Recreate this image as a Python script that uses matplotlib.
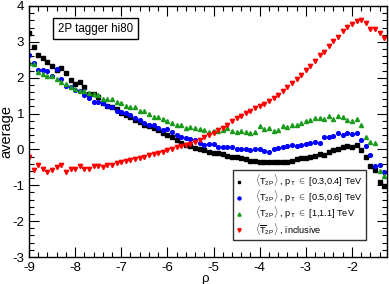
import numpy as np
import matplotlib
matplotlib.use("Agg")
import matplotlib.pyplot as plt
from matplotlib.ticker import MultipleLocator

plt.rcParams['font.family'] = ['Liberation Sans', 'DejaVu Sans']
plt.rcParams['mathtext.fontset'] = 'custom'
plt.rcParams['mathtext.rm'] = 'Liberation Sans'
plt.rcParams['mathtext.it'] = 'Liberation Sans'
plt.rcParams['axes.unicode_minus'] = False

# rho bins, -9.0 ... -1.3
rho = np.round(np.arange(-9.0, -1.25, 0.1), 2)

# <T_2P>, pT in [0.3,0.4] TeV
black = [3.24, 2.87, 2.63, 2.54, 2.45, 2.34, 2.22, 2.28, 2.12, 1.94,
         1.82, 1.88, 1.74, 1.55, 1.55,
         1.45, 1.30, 1.22, 1.18, 1.12, 1.02, 0.96, 0.90, 0.82, 0.76,
         0.69, 0.64, 0.59, 0.53, 0.47, 0.41, 0.34,
         0.27, 0.19, 0.13, 0.10, 0.04, 0.01, -0.01, -0.07,
         -0.09, -0.10, -0.14, -0.17, -0.20, -0.22, -0.24, -0.28, -0.31, -0.33,
         -0.34, -0.36, -0.36, -0.36, -0.35, -0.35, -0.34, -0.31, -0.28,
         -0.24, -0.24, -0.21, -0.18, -0.12, -0.15, -0.06, -0.01, 0.01, 0.08,
         0.10, 0.08, 0.13, -0.01, -0.20, -0.45, -0.57, -0.92, -1.03]

# <T_2P>, pT in [0.5,0.6] TeV
blue = [2.62, 2.40, 2.22, 2.21, 2.19, 2.05, 2.24, 1.96, 1.78, 1.74,
        1.66, 1.63, 1.52, 1.44, 1.33, 1.31, 1.30, 1.20, 1.17, 1.08, 1.05,
        1.01, 0.96, 0.87, 0.82, 0.73, 0.69, 0.67, 0.59, 0.55, 0.56,
        0.50, 0.41, 0.36, 0.31,
        0.29, 0.27, 0.19, 0.13, 0.14, 0.15, 0.06, 0.08, 0.08, 0.06, 0.02,
        0.02, 0.01, -0.01, 0.01, 0.01, -0.03, -0.08, 0.01, 0.04, 0.06,
        0.10, 0.13, 0.09,
        0.13, 0.14, 0.19, 0.22, 0.18, 0.36, 0.35, 0.38, 0.45, 0.41,
        0.45, 0.43, 0.45, 0.25, 0.10, -0.15, -0.45, -0.43, -0.64]

# <T_2P>, pT in [1,1.1] TeV
green = [2.40, 2.39, 2.17, 2.11, 2.05, 2.04, 1.97, 1.88, 1.82, 1.75,
         1.68, 1.63, 1.62, 1.56, 1.54, 1.52, 1.42, 1.40, 1.40, 1.33,
         1.29, 1.21, 1.17, 1.17, 1.08, 1.06, 0.99, 0.90, 0.90, 0.86,
         0.78, 0.75, 0.69, 0.67, 0.61,
         0.62, 0.59, 0.57, 0.55, 0.50, 0.51, 0.51, 0.55, 0.59, 0.51,
         0.48, 0.51, 0.50, 0.45, 0.50, 0.64, 0.57, 0.59, 0.52, 0.55,
         0.64, 0.62, 0.69, 0.69, 0.73, 0.78, 0.82, 0.87, 0.87, 0.85,
         0.92, 0.86, 0.94, 0.90, 0.81, 0.78, 0.85, 0.69, 0.36, 0.22, 0.18,
         -0.59, -0.75]

# <T_2P> bar, inclusive
red = [-0.21, -0.57, -0.43, -0.55, -0.62, -0.57, -0.48, -0.43, -0.62, -0.55,
       -0.55, -0.46, -0.55, -0.55, -0.46, -0.46, -0.48, -0.43, -0.43, -0.38,
       -0.34, -0.32, -0.29, -0.27, -0.23, -0.20, -0.15, -0.13, -0.09, -0.06,
       -0.02, 0.01, 0.06, 0.10, 0.13, 0.16, 0.22,
       0.27, 0.34, 0.41, 0.47, 0.53, 0.61, 0.69, 0.78, 0.87, 0.92,
       1.01, 1.07, 1.15, 1.20, 1.27, 1.34, 1.43, 1.53, 1.63, 1.74,
       1.84, 1.96,
       2.08, 2.22, 2.34, 2.48, 2.62, 2.73, 2.89, 3.01, 3.14, 3.30,
       3.42, 3.50, 3.59, 3.61, 3.53, 3.35, 3.35, 3.24, 3.10]

labels = [r'$\langle\mathrm{T_{2P}}\rangle$ , p$_\mathrm{T}$ $\in$ [0.3,0.4] TeV',
          r'$\langle\mathrm{T_{2P}}\rangle$ , p$_\mathrm{T}$ $\in$ [0.5,0.6] TeV',
          r'$\langle\mathrm{T_{2P}}\rangle$ , p$_\mathrm{T}$ $\in$ [1,1.1] TeV',
          r'$\langle\overline{\mathrm{T}}_\mathrm{2P}\rangle$ , inclusive']

fig = plt.figure(figsize=(3.89, 2.84), dpi=100)
ax = fig.add_axes([29/389, 1 - 257/284, 358/389, 251/284])

ax.plot(rho, black, ls='none', marker='s', ms=2.3, color='black', label=labels[0])
ax.plot(rho, blue, ls='none', marker='o', ms=2.7, color='#0000ff', label=labels[1])
ax.plot(rho, green, ls='none', marker='^', ms=2.9, color='#1a9a1a', label=labels[2])
ax.plot(rho, red, ls='none', marker='v', ms=3.1, color='#ff0000', label=labels[3])

ax.set_xlim(-9.0, -1.24)
ax.set_ylim(-3, 4)
ax.xaxis.set_major_locator(MultipleLocator(1))
ax.xaxis.set_minor_locator(MultipleLocator(0.2))
ax.yaxis.set_major_locator(MultipleLocator(1))
ax.yaxis.set_minor_locator(MultipleLocator(0.2))
ax.tick_params(which='both', direction='in', top=True, right=True, labelsize=9.5)
ax.tick_params(which='major', length=7, width=0.8)
ax.tick_params(which='minor', length=3.5, width=0.8)
for s in ax.spines.values():
    s.set_linewidth(1.0)

ax.set_xlabel('ρ', fontsize=9.5)
ax.xaxis.set_label_coords(0.49, -0.062)
ax.set_ylabel('average', fontsize=10.5)
ax.yaxis.set_label_coords(-0.045, 0.5)

ax.text(0.186, 0.91, '2P tagger hi80', transform=ax.transAxes, fontsize=8.3,
        ha='center', va='center',
        bbox=dict(boxstyle='square,pad=0.4', fc='white', ec='black', lw=1.0))

leg = ax.legend(loc='lower left', bbox_to_anchor=(0.57, 0.068), fontsize=6.6,
                frameon=True, fancybox=False, edgecolor='black',
                handlelength=0.8, handletextpad=1.3, borderpad=0.3,
                labelspacing=0.0, markerscale=0.8, borderaxespad=0)
leg.get_frame().set_linewidth(1.0)

fig.savefig('out.png', dpi=100)
